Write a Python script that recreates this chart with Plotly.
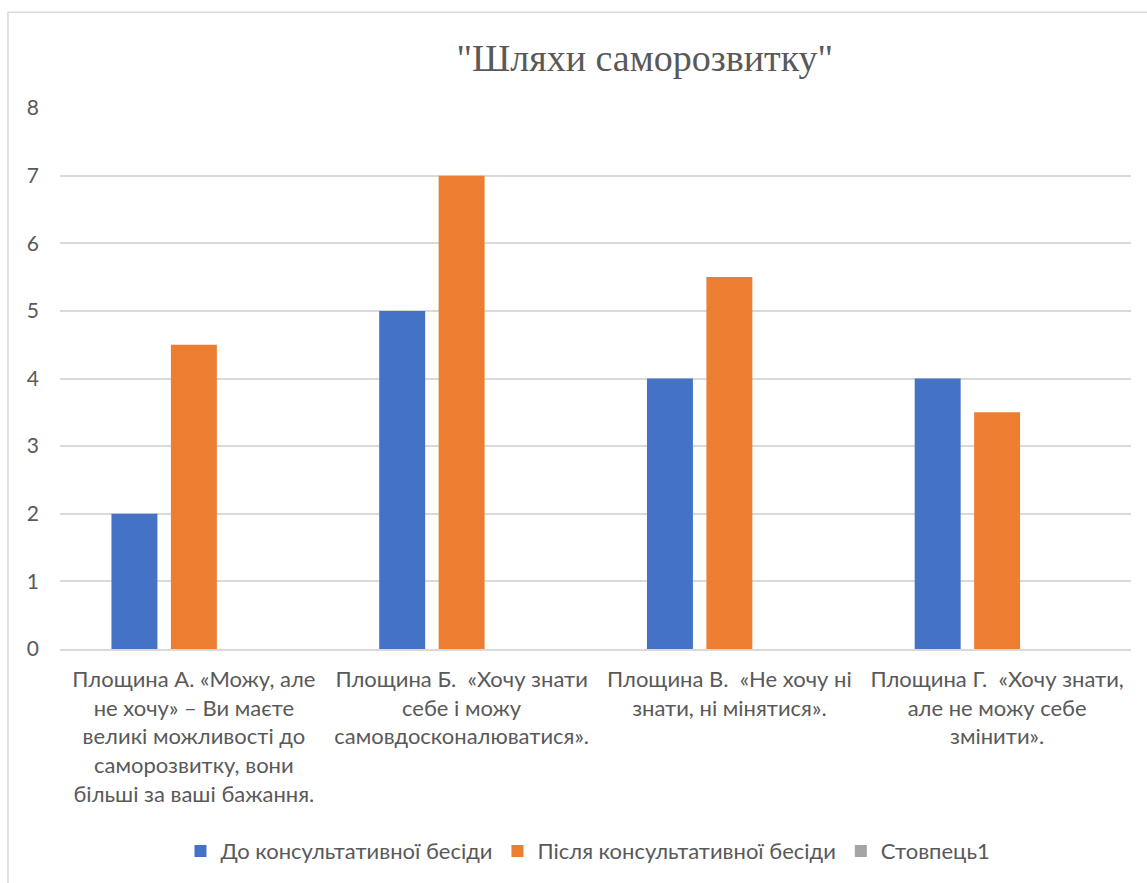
import plotly.graph_objects as go

# Categories (wrapped onto several lines, as shown under the axis)
categories = [
    "Площина А. «Можу, але<br>не хочу» – Ви маєте<br>великі можливості до<br>саморозвитку, вони<br>більші за ваші бажання.",
    "Площина Б.  «Хочу знати<br>себе і можу<br>самовдосконалюватися».",
    "Площина В.  «Не хочу ні<br>знати, ні мінятися».",
    "Площина Г.  «Хочу знати,<br>але не можу себе<br>змінити».",
]

series_names = ["До консультативної бесіди", "Після консультативної бесіди", "Стовпець1"]
before_values = [2, 5, 4, 4]
after_values = [4.5, 7, 5.5, 3.5]
column1_values = [None, None, None, None]

y_ticks = [0, 1, 2, 3, 4, 5, 6, 7, 8]

colors = ["#4472C4", "#ED7D31", "#A5A5A5"]
text_color = "#595959"
grid_color = "#D9D9D9"
font_family = "Lato, 'Open Sans', sans-serif"

fig = go.Figure()
for name, vals, col in zip(series_names, [before_values, after_values, column1_values], colors):
    fig.add_trace(go.Bar(
        x=categories,
        y=vals,
        name=name,
        marker=dict(color=col, line=dict(width=0)),
    ))

fig.update_layout(
    width=1147,
    height=883,
    margin=dict(l=60, r=16, t=108, b=233),
    paper_bgcolor="white",
    plot_bgcolor="white",
    barmode="group",
    bargap=0.334,
    bargroupgap=0.227,
    font=dict(family=font_family, color=text_color, size=21),
    title=dict(
        text='"Шляхи саморозвитку"',
        font=dict(family="'Liberation Serif', 'Times New Roman', serif", size=38, color=text_color),
        xref="paper",
        x=0.546,
        xanchor="center",
        yref="container",
        y=0.935,
        yanchor="middle",
    ),
    legend=dict(
        orientation="h",
        x=0.493,
        xanchor="center",
        y=-0.371,
        yanchor="middle",
        font=dict(size=22, color=text_color),
        itemwidth=30,
        traceorder="normal",
    ),
    xaxis=dict(
        showgrid=False,
        showline=True,
        linecolor=grid_color,
        linewidth=1.5,
        tickfont=dict(size=22, color=text_color),
        ticklabelstandoff=10,
        tickangle=0,
    ),
    yaxis=dict(
        range=[0, 8],
        tickvals=y_ticks,
        showgrid=True,
        gridcolor=grid_color,
        gridwidth=1.5,
        zeroline=False,
        showline=False,
        tickfont=dict(size=21, color=text_color),
        ticklabelstandoff=20,
    ),
    shapes=[
        dict(
            type="rect",
            xref="paper", yref="paper",
            x0=-0.0486, x1=1.03, y0=-0.46, y1=1.177,
            line=dict(color=grid_color, width=1.5),
            layer="below",
        )
    ],
)

fig.write_html("out.html")
